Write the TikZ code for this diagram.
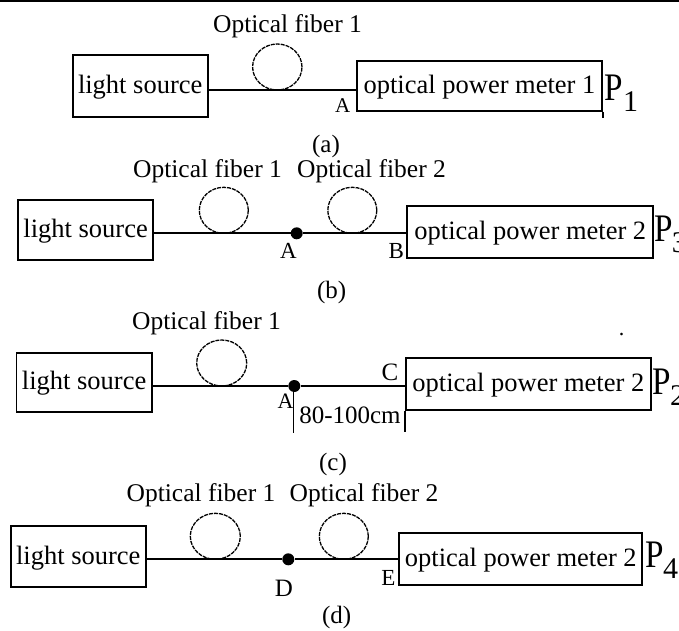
\documentclass[tikz,border=0pt]{standalone}
\usepackage{fontspec}
\setmainfont{Liberation Serif}
\newcommand{\fsz}[1]{\fontsize{#1}{#1}\selectfont}
\begin{document}
\begin{tikzpicture}[x=1pt,y=-1pt,
  box/.style={draw, line width=1.8pt, inner sep=0pt, text height=20pt, text depth=5pt, font=\fsz{26.5}},
  fiber/.style={line width=1.8pt},
  fibloop/.style={line width=1.3pt, dash pattern=on 4pt off 1pt},
  joint/.style={circle, fill, inner sep=0pt, minimum size=12pt},
  fiblabel/.style={anchor=base, inner sep=0pt, font=\fsz{25.5}},
  ptlabel/.style={anchor=base, inner sep=0pt},
  plabel/.style={anchor=base west, inner sep=0pt, font=\fsz{39}},
  psub/.style={anchor=base west, inner sep=0pt, font=\fsz{30}},
  caption/.style={anchor=center, inner sep=0pt, font=\fsz{25}}]
\path[use as bounding box] (0,0) rectangle (679,630);
\draw[line width=1.6pt] (0,0.8) -- (679,0.8);

% ---------- (a)
\node[box, minimum width=135pt, minimum height=61.4pt] (lsA) at (140.2,86) {light source};
\node[box, minimum width=245pt, minimum height=50.3pt] (pmA) at (479.5,85.85) {optical power meter 1};
\coordinate (jA1) at (lsA.east |- 0,90);
\coordinate (jA2) at (pmA.west |- 0,90);
\draw[fiber] (jA1) -- (jA2);
\draw[fibloop] (277.3,67) ellipse [x radius=24.7pt, y radius=23pt];
\draw[line width=1.8pt] (pmA.south east) -- ++(0,5.7);
\node[fiblabel] (fA) at (287.5,32) {Optical fiber 1};
\node[ptlabel, font=\fsz{21}] (lA) at (342.7,112) {A};
\node[plabel] (PA) at (604.5,100) {\scalebox{0.85}[1]{P}};
\node[psub] (PAs) at (623,111.7) {1};
\node[caption] (capA) at (326,146) {(a)};

% ---------- (b)
\node[box, minimum width=135.3pt, minimum height=60pt] (lsB) at (85.65,230) {light source};
\node[box, minimum width=246pt, minimum height=52.6pt] (pmB) at (530.3,232) {optical power meter 2};
\node[joint] (dB) at (296.7,233.3) {};
\coordinate (jB1) at (lsB.east |- dB);
\coordinate (jB2) at (pmB.west |- dB);
\draw[fiber] (jB1) -- (dB) -- (jB2);
\draw[fibloop] (223.8,210.3) ellipse [x radius=24.5pt, y radius=23pt];
\draw[fibloop] (352.3,210.3) ellipse [x radius=24.5pt, y radius=23pt];
\node[fiblabel] (fB1) at (207.5,177) {Optical fiber 1};
\node[fiblabel] (fB2) at (371.5,177) {Optical fiber 2};
\node[ptlabel, font=\fsz{23}] (lBA) at (288.3,258) {A};
\node[ptlabel, font=\fsz{23}] (lBB) at (396.3,258) {B};
\node[plabel] (PB) at (654,241) {\scalebox{0.85}[1]{P}};
\node[psub] (PBs) at (671.7,252) {3};
\node[caption] (capB) at (331.7,292) {(b)};

% ---------- (c)
\node[box, minimum width=135.2pt, minimum height=59pt] (lsC) at (84.1,382.2) {light source};
\node[box, minimum width=244.7pt, minimum height=51.7pt] (pmC) at (528.35,384.15) {optical power meter 2};
\node[joint] (dC) at (294.3,386) {};
\coordinate (jC1) at (lsC.east |- dC);
\coordinate (jC2) at (pmC.west |- dC);
\draw[fiber] (jC1) -- (dC) -- (jC2);
\draw[fibloop] (221.7,363) ellipse [x radius=25pt, y radius=23pt];
\coordinate (mC1) at (293.5,432.7);
\draw[fiber] (dC.center) ++(-0.8,0) -- (mC1);
\coordinate (mC2) at ([yshift=-20.7pt]pmC.south west);
\draw[fiber] (pmC.south west) -- (mC2);
\node[fiblabel] (fC1) at (206.5,329) {Optical fiber 1};
\node[ptlabel, font=\fsz{22}] (lCA) at (285.5,408.5) {A};
\node[ptlabel, font=\fsz{25}] (lCC) at (390,380) {C};
\node[ptlabel, font=\fsz{25}] (lCm) at (350,423.3) {80-100cm};
\node[ptlabel, font=\fsz{22}] (dotC) at (621.7,335) {.};
\node[plabel] (PC) at (652.3,394) {\scalebox{0.85}[1]{P}};
\node[psub] (PCs) at (670,405) {2};
\node[caption] (capC) at (333,464) {(c)};

% ---------- (d)
\node[box, minimum width=134.9pt, minimum height=61.3pt] (lsD) at (78.25,556.65) {light source};
\node[box, minimum width=243pt, minimum height=52.3pt] (pmD) at (520.8,558.85) {optical power meter 2};
\node[joint] (dD) at (288.3,559.3) {};
\coordinate (jD1) at (lsD.east |- dD);
\coordinate (jD2) at (pmD.west |- dD);
\draw[fiber] (jD1) -- (dD) -- (jD2);
\draw[fibloop] (215.3,536.3) ellipse [x radius=25pt, y radius=23pt];
\draw[fibloop] (343.8,536.3) ellipse [x radius=24.5pt, y radius=23pt];
\node[fiblabel] (fD1) at (201,501.7) {Optical fiber 1};
\node[fiblabel] (fD2) at (364,501.7) {Optical fiber 2};
\node[ptlabel, font=\fsz{25}] (lDD) at (284,596) {D};
\node[ptlabel, font=\fsz{23}] (lDE) at (388.3,585.5) {E};
\node[plabel] (PD) at (645,567) {\scalebox{0.85}[1]{P}};
\node[psub] (PDs) at (663,578) {4};
\node[caption] (capD) at (336.7,617) {(d)};
\end{tikzpicture}
\end{document}
